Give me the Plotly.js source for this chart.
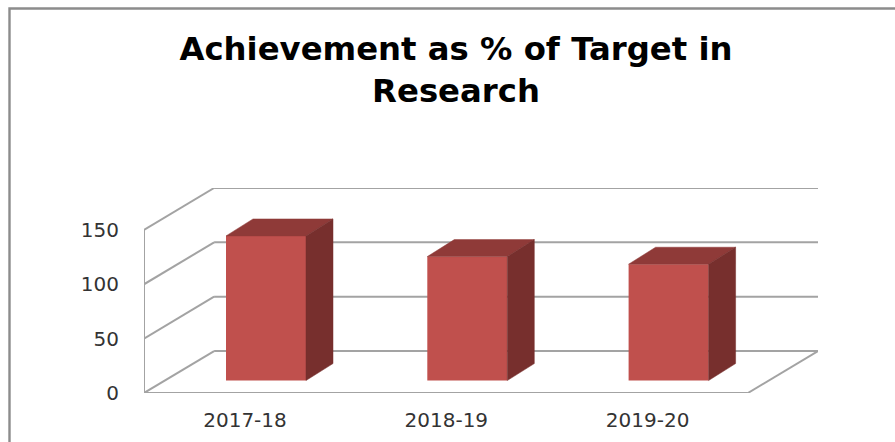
<!DOCTYPE html>
<html><head><meta charset="utf-8">
<script src="https://cdn.plot.ly/plotly-3.0.1.min.js"></script>
<style>html,body{margin:0;padding:0;background:#fff}#c{width:895px;height:442px}</style>
</head><body><div id="c"></div>
<script>
var categories = ["2017-18", "2018-19", "2019-20"];
var values = [133, 114, 107];
var yTicks = [0, 50, 100, 150];
var chartTitle = "Achievement as % of Target in<br>Research";

var W = 895, H = 442;
var L = 144, R = 818, T = 188, B = 393.5;
var pxPerCat = 201.3, pxPerVal = 54.5 / 50, cat0 = 245;
var xMin = (L - cat0) / pxPerCat, xMax = (R - cat0) / pxPerCat;
var yMax = (B - T) / pxPerVal;
var xLast = xMin + categories.length;
var yTop = yTicks[yTicks.length - 1];
var wallDx = xMax - xLast, wallDy = yMax - yTop;
var barW = 80 / pxPerCat, barShift = 21 / pxPerCat, barBase = 12.5 / pxPerVal;
var depthX = 27 / pxPerCat, depthY = 17 / pxPerVal;
var grid = "#a3a3a3";

var traces = [], shapes = [];
function poly(xs, ys, fill) {
  traces.push({type: "scatter", mode: "lines", x: xs, y: ys, fill: "toself", fillcolor: fill,
    line: {color: fill, width: 0.5}, hoverinfo: "skip", showlegend: false, cliponaxis: false});
}
function seg(x0, y0, x1, y1) {
  shapes.push({type: "line", xref: "x", yref: "y", layer: "below", x0: x0, y0: y0, x1: x1, y1: y1,
    line: {color: grid, width: 2}});
}
yTicks.forEach(function (t) {
  seg(xMin, t, xMin + wallDx, t + wallDy);
  seg(xMin + wallDx, t + wallDy, xMax, t + wallDy);
});
seg(xMin, 0, xMin, yTop);
seg(xMin, 0, xLast, 0);
seg(xLast, 0, xMax, wallDy);

var shifted = categories.map(function (c, i) { return i + barShift; });
traces.push({type: "bar", x: shifted, y: values, base: barBase, width: barW,
  marker: {color: "#c0504d", line: {width: 0}}, hoverinfo: "skip", showlegend: false});
values.forEach(function (v, i) {
  var x0 = shifted[i] - barW / 2, x1 = shifted[i] + barW / 2, top = barBase + v;
  poly([x0, x1, x1 + depthX, x0 + depthX, x0], [top, top, top + depthY, top + depthY, top], "#8f3a38");
  poly([x1, x1 + depthX, x1 + depthX, x1, x1], [barBase, barBase + depthY, top + depthY, top, barBase], "#772f2d");
});

function px(v) { return (v - L) / (R - L); }
function py(v) { return (B - v) / (B - T); }
shapes.push({type: "path", xref: "paper", yref: "paper", layer: "below",
  path: "M " + px(9.5) + " " + py(H + 2) + " L " + px(9.5) + " " + py(8) + " L " + px(W + 2) + " " + py(8),
  line: {color: "#8c8c8c", width: 2.4}});

var layout = {
  width: W, height: H, autosize: false, showlegend: false,
  paper_bgcolor: "#fff", plot_bgcolor: "rgba(0,0,0,0)",
  margin: {l: L, r: W - R, t: T, b: H - B, pad: 0},
  barmode: "overlay",
  title: {text: chartTitle, x: 456 / W, xanchor: "center", y: 1 - 60 / H, yanchor: "top",
    font: {family: "DejaVu Sans", size: 32.3, color: "#000", weight: 700}},
  xaxis: {range: [xMin, xMax], tickmode: "array", tickvals: categories.map(function (c, i) { return i; }),
    ticktext: categories, showgrid: false, zeroline: false, showline: false, ticks: "outside", ticklen: 9,
    tickcolor: "rgba(0,0,0,0)", tickfont: {family: "DejaVu Sans", size: 20, color: "#333"}},
  yaxis: {range: [0, yMax], tickmode: "array", tickvals: yTicks, showgrid: false, zeroline: false, showline: false,
    ticks: "outside", ticklen: 20, tickcolor: "rgba(0,0,0,0)",
    tickfont: {family: "DejaVu Sans", size: 20, color: "#333"}},
  shapes: shapes
};
Plotly.newPlot("c", traces, layout, {displayModeBar: false, staticPlot: true});
</script></body></html>
